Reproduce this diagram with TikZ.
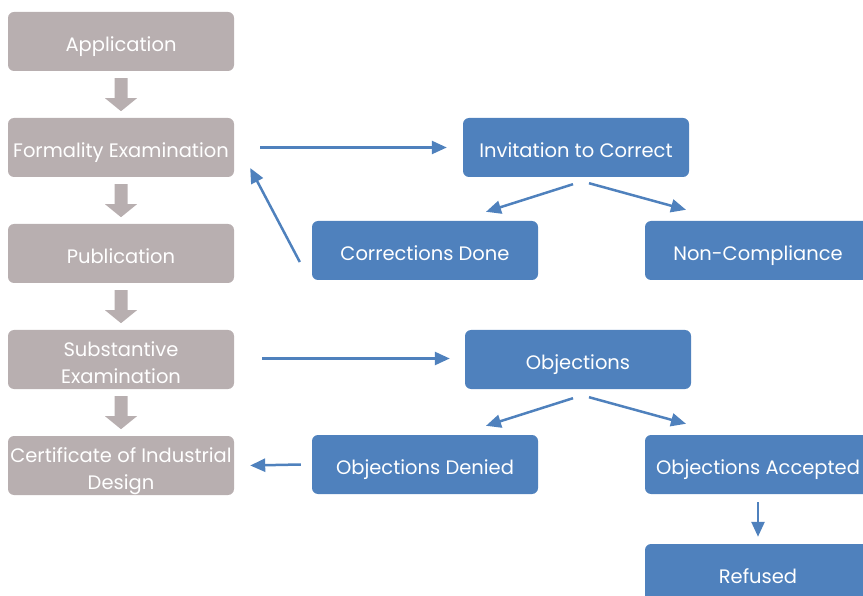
\documentclass[tikz,border=0pt]{standalone}
\usepackage{fontspec}
\setmainfont{Poppins}
\usetikzlibrary{calc,arrows.meta}
\definecolor{greyc}{HTML}{B8AFB0}
\definecolor{bluec}{HTML}{4F81BD}
\newcommand\lowtext[1]{\raisebox{-5pt}[\height][\depth]{\begin{tabular}{@{}c@{}}#1\end{tabular}}}
\tikzset{
  base/.style={rounded corners=6pt, minimum width=226pt, minimum height=59pt, inner sep=0pt,
    text=white, align=center, font=\fontsize{19.5}{27}\selectfont},
  gbox/.style={base, fill=greyc},
  bbox/.style={base, fill=bluec},
  conn/.style={draw=bluec, line width=2.5pt, -{Triangle[length=15pt,width=13pt]}},
  blockarr/.style={fill=greyc},
}
\newcommand\blockarrowbetween[1]{%
  \fill[blockarr] ($(#1.south)+(-6.5,7)$) -- ($(#1.south)+(6.5,7)$) -- ($(#1.south)+(6.5,27)$)
    -- ($(#1.south)+(16,27)$) -- ($(#1.south)+(0,40)$) -- ($(#1.south)+(-16,27)$)
    -- ($(#1.south)+(-6.5,27)$) -- cycle;}
\begin{document}
\begin{tikzpicture}[x=1pt,y=-1pt]
\useasboundingbox (0,0) rectangle (863,596);
\clip (0,0) rectangle (863,596);
\node[gbox] (app) at (121,41.5) {\lowtext{Application}};
\node[gbox] (form) at (121,147.5) {\lowtext{Formality Examination}};
\node[gbox] (pub) at (121,253.5) {\lowtext{Publication}};
\node[gbox] (sub) at (121,359.5) {\lowtext{Substantive\\Examination}};
\node[gbox] (cert) at (121,465.5) {\lowtext{Certificate of Industrial\\Design}};
\blockarrowbetween{app}
\blockarrowbetween{form}
\blockarrowbetween{pub}
\blockarrowbetween{sub}
\node[bbox] (inv) at (576,147.5) {\lowtext{Invitation to Correct}};
\node[bbox] (cor) at (425,250.5) {\lowtext{Corrections Done}};
\node[bbox] (non) at (758,250.5) {\lowtext{Non-Compliance}};
\node[bbox] (obj) at (578,359.5) {\lowtext{Objections}};
\node[bbox] (den) at (425,464.5) {\lowtext{Objections Denied}};
\node[bbox] (acc) at (758,464.5) {\lowtext{Objections Accepted}};
\node[bbox] (ref) at (758,573.5) {\lowtext{Refused}};
\draw[conn] ($(form.east)+(26,0)$) -- ($(inv.west)+(-16,0)$);
\draw[conn] ($(inv.south)+(-3,7)$) -- ($(cor.north)+(61,-9)$);
\draw[conn] ($(inv.south)+(13,6)$) -- ($(non.north)+(-72,-11)$);
\draw[conn] ($(cor.west)+(-12,11.5)$) -- ($(form.east)+(16,20.5)$);
\draw[conn] ($(sub.east)+(28,-1)$) -- ($(obj.west)+(-15,-1)$);
\draw[conn] ($(obj.south)+(-5,9)$) -- ($(den.north)+(61,-9)$);
\draw[conn] ($(obj.south)+(11,8)$) -- ($(acc.north)+(-72,-11)$);
\draw[conn] ($(den.west)+(-11,0)$) -- ($(cert.east)+(16,0)$);
\draw[conn] ($(acc.south)+(0,8)$) -- ($(ref.north)+(0,-7)$);
\end{tikzpicture}
\end{document}
